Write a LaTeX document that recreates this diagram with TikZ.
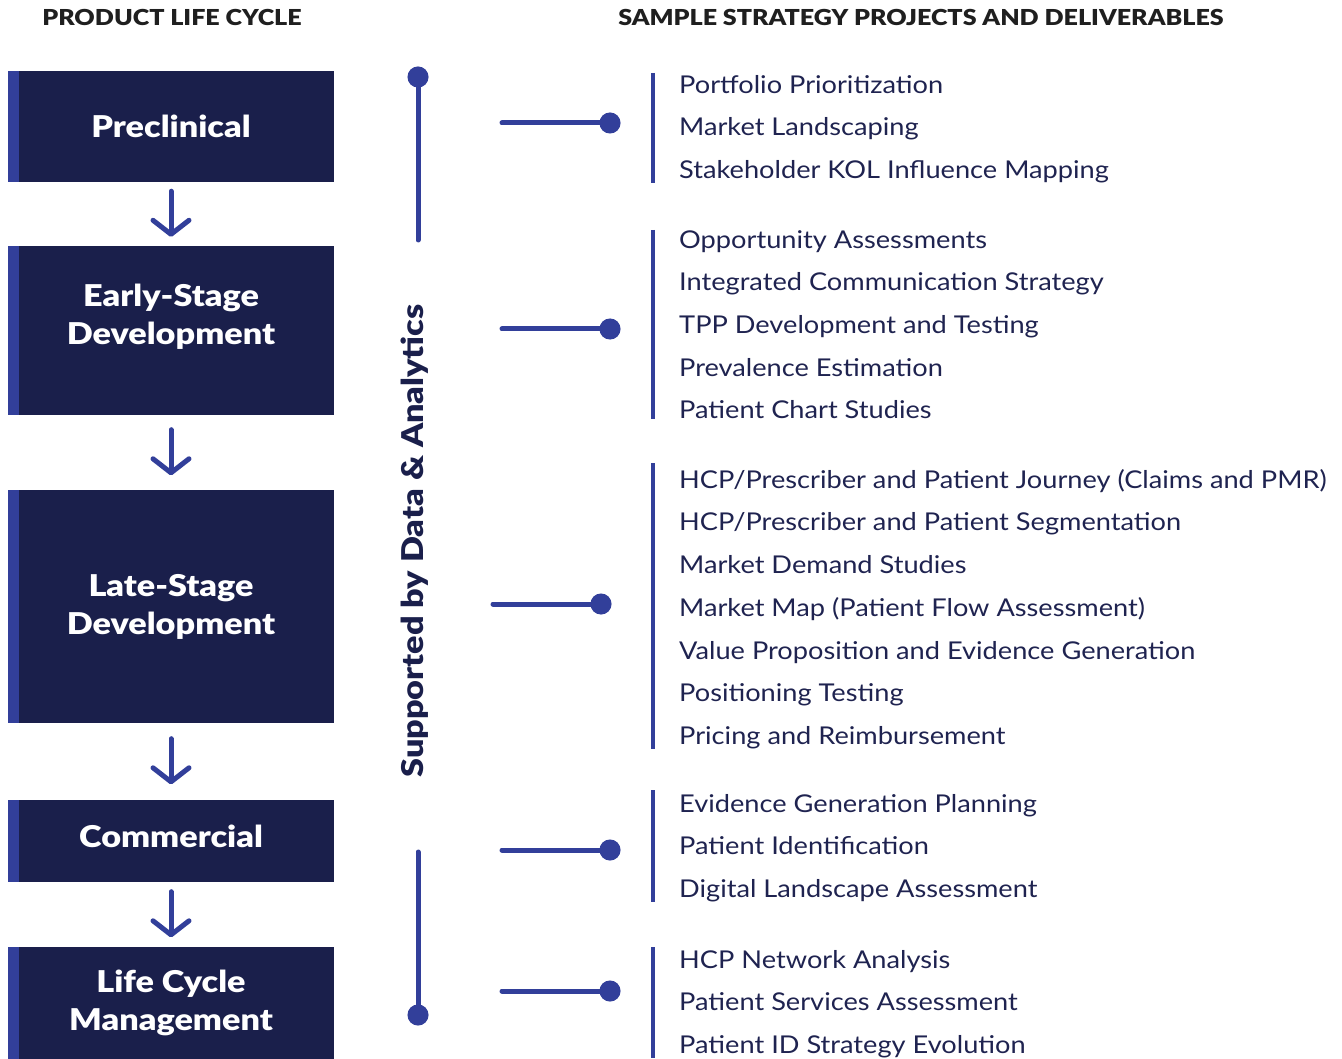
\documentclass[tikz,border=0pt]{standalone}
\usepackage{fontspec}
\setmainfont{Lato}[FakeStretch = 1.11]
\newfontfamily\heavy{Lato Black}[FakeStretch = 1.14]
\usetikzlibrary{arrows.meta}

\definecolor{navy}{HTML}{1A1F4B}
\definecolor{accent}{HTML}{323F9A}
\definecolor{ink}{HTML}{1F2350}

\begin{document}
\begin{tikzpicture}[x = 1pt, y = -1pt,
	stage/.style = {rectangle, fill = navy, text = white, minimum width = 326pt, inner sep = 0pt, align = center, font = \fontsize{30}{38}\selectfont\heavy},
	items/.style = {anchor = north west, inner xsep = 26pt, inner ysep = 0pt, align = left, text = ink, font = \fontsize{24.5}{42.7}\selectfont},
	heading/.style = {font = \fontsize{22}{26}\selectfont\heavy, text = black!88},
	link/.style = {accent, line width = 5pt, line cap = round}]

	\useasboundingbox (0, 0) rectangle (1342, 1059);

	% Column headings

	\node[heading] (plc) at (172, 17) {PRODUCT LIFE CYCLE};
	\node[heading] (ssp) at (921, 17) {SAMPLE STRATEGY PROJECTS AND DELIVERABLES};

	% Life cycle stage boxes

	\node[stage, minimum height = 111pt] (pre) at (171, 126.5) {Preclinical};
	\node[stage, minimum height = 169pt, text depth = 33pt] (early) at (171, 330.5) {Early-Stage\\Development};
	\node[stage, minimum height = 233pt] (late) at (171, 606.5) {Late-Stage\\Development};
	\node[stage, minimum height = 82pt, text depth = 10pt] (comm) at (171, 841) {Commercial};
	\node[stage, minimum height = 112pt] (lcm) at (171, 1003) {Life Cycle\\Management};

	\foreach \n in {pre, early, late, comm, lcm}
		\fill[accent] (\n.north west) rectangle ([xshift = 11pt] \n.south west);

	% Arrows between stages

	\begin{scope}[link, -{Straight Barb[length = 14pt, width = 36pt, round]}]

		\draw[shorten < = 9pt, shorten > = 9pt] (pre) -- (early);
		\draw[shorten < = 14.5pt, shorten > = 14.5pt] (early) -- (late);
		\draw[shorten < = 15.5pt, shorten > = 15.5pt] (late) -- (comm);
		\draw[shorten < = 9.5pt, shorten > = 9.5pt] (comm) -- (lcm);

	\end{scope}

	% Data & analytics spine

	\node[rotate = 90, text = navy, font = \fontsize{30}{36}\selectfont\heavy] (sda) at (415, 541) {Supported by Data \& Analytics};

	\coordinate (top1) at (418, 66.5);
	\coordinate (top2) at (418, 240);
	\coordinate (bot1) at (418, 852);
	\coordinate (bot2) at (418, 1025.5);

	\draw[link, {Circle[length = 21pt]}-] (top1) -- (top2);
	\draw[link, -{Circle[length = 21pt]}] (bot1) -- (bot2);

	% Project lists

	\node[items] (l1) at (653, 75) {Portfolio Prioritization\\Market Landscaping\\Stakeholder KOL Influence Mapping};
	\node[items] (l2) at (653, 230) {Opportunity Assessments\\Integrated Communication Strategy\\TPP Development and Testing\\Prevalence Estimation\\Patient Chart Studies};
	\node[items] (l3) at (653, 469) {HCP/Prescriber and Patient Journey (Claims and PMR)\\HCP/Prescriber and Patient Segmentation\\Market Demand Studies\\Market Map (Patient Flow Assessment)\\Value Proposition and Evidence Generation\\Positioning Testing\\Pricing and Reimbursement};
	\node[items] (l4) at (653, 794) {Evidence Generation Planning\\Patient Identification\\Digital Landscape Assessment};
	\node[items] (l5) at (653, 950) {HCP Network Analysis\\Patient Services Assessment\\Patient ID Strategy Evolution};

	\foreach \n/\d in {l1/2, l2/0, l3/6, l4/4, l5/3}
		\draw[accent, line width = 4.5pt] ([yshift = \d pt] \n.north west) -- (\n.south west);

	% Connectors to the lists

	\coordinate (s1) at (502, 123);
	\coordinate (s2) at (502, 329);
	\coordinate (s3) at (493, 604);
	\coordinate (s4) at (502, 850);
	\coordinate (s5) at (502, 991);

	\begin{scope}[link, -{Circle[length = 21pt]}, shorten > = 32.5pt]

		\draw (s1) -- (s1 -| l1.west);
		\draw (s2) -- (s2 -| l2.west);
		\draw[shorten > = 41.5pt] (s3) -- (s3 -| l3.west);
		\draw (s4) -- (s4 -| l4.west);
		\draw (s5) -- (s5 -| l5.west);

	\end{scope}

\end{tikzpicture}
\end{document}
